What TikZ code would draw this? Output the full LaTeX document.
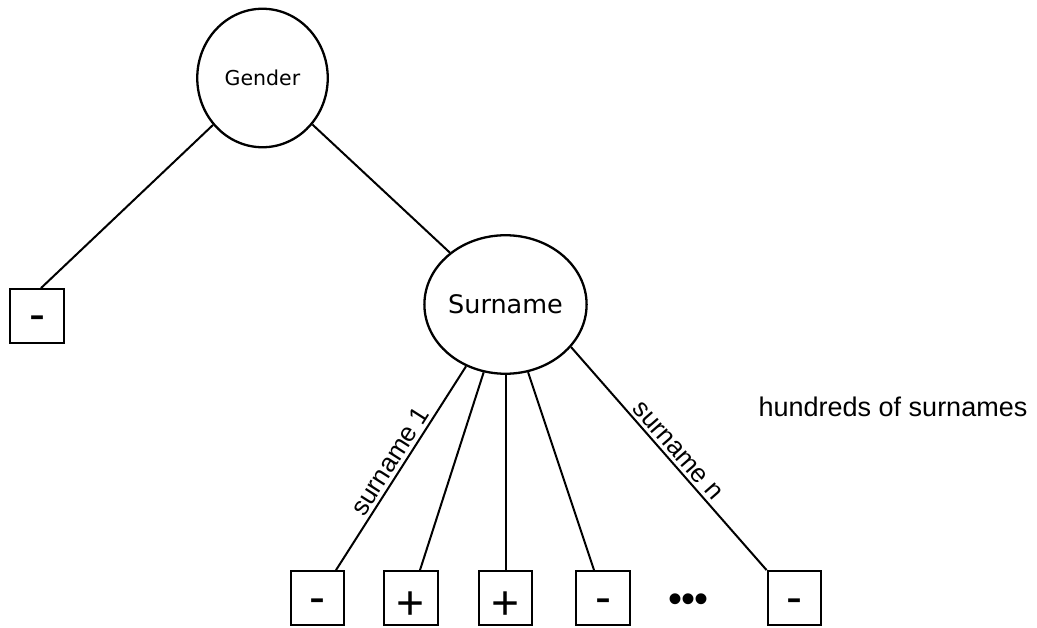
\documentclass[tikz,border=0pt]{standalone}
\usepackage{fontspec}
\setmainfont{Liberation Sans}
\newfontfamily\lucida{DejaVu Sans}
\usetikzlibrary{shapes.geometric}
\begin{document}
\begin{tikzpicture}[x=1pt,y=-1pt,
  dec/.style={ellipse, draw, line width=2.3pt, inner sep=0pt, minimum width=130.5pt, minimum height=138.5pt},
  leaf/.style={draw, line width=2.3pt, minimum width=53.5pt, minimum height=53.5pt, inner sep=0pt, text depth=0pt, font=\fontsize{48}{48}\selectfont},
  leafm/.style={leaf, text height=30pt},
  leafp/.style={leaf, text height=43pt},
  conn/.style={line width=2pt},
  lbl/.style={font=\fontsize{26}{26}\selectfont, sloped, above, pos=0.5}
]
\useasboundingbox (0,0) rectangle (1037,628);
\node[dec, font=\lucida\fontsize{20.5}{20.5}\selectfont] (G) at (262.5,78) {Gender};
\node[dec, font=\lucida\fontsize{25.5}{25.5}\selectfont] (S) at (505.5,304.5) {Surname};
\node[leafm] (L) at (37,316) {-};
\node[leafm] (b1) at (317.5,598) {-};
\node[leafp] (b2) at (411,598) {+};
\node[leafp] (b3) at (505.5,598) {+};
\node[leafm] (b4) at (603,598) {-};
\node[leafm] (b5) at (794.5,598) {-};
\node[font=\fontsize{40}{40}\selectfont, inner sep=0pt] (dots) at (689,603) {•\kern-1pt•\kern-1pt•};
\node[font=\fontsize{27}{27}\selectfont, anchor=base, inner sep=0pt] (h) at (893,417) {hundreds of surnames};
\draw[conn] (G) -- ([xshift=4pt]L.north);
\draw[conn] (G) -- (S);
\draw[conn] ([xshift=18.5pt]b1.north) -- (S) node[lbl] {surname 1};
\draw[conn] (S) -- ([xshift=9pt]b2.north);
\draw[conn] (S) -- (b3.north);
\draw[conn] (S) -- ([xshift=-9pt]b4.north);
\draw[conn] (S.-33) -- (b5.north west) node[lbl] {surname n};
\end{tikzpicture}
\end{document}
